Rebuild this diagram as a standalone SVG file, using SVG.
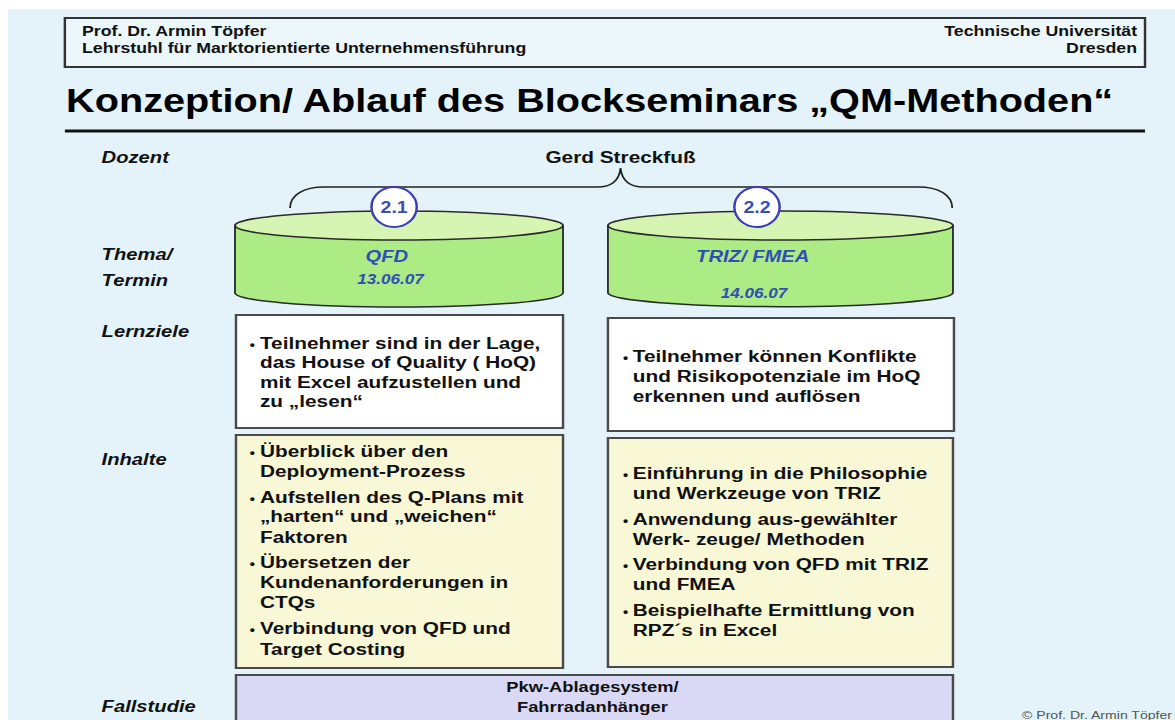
<svg xmlns="http://www.w3.org/2000/svg" width="1175" height="720" viewBox="0 0 1175 720">
<style>
.hdr{font-family:"Liberation Sans",Arial,sans-serif;font-weight:bold;font-size:14.5px;fill:#111}
.title{font-family:"Liberation Sans",Arial,sans-serif;font-weight:bold;font-size:32.4px;fill:#000}
.lbl{font-family:"Liberation Sans",Arial,sans-serif;font-weight:bold;font-style:italic;font-size:16.5px;fill:#111}
.body{font-family:"Liberation Sans",Arial,sans-serif;font-weight:bold;font-size:17px;fill:#111}
.bul{font-size:12px}
.cyl{font-family:"Liberation Sans",Arial,sans-serif;font-weight:bold;font-style:italic;fill:#2f4fb5}
.num{font-family:"Liberation Sans",Arial,sans-serif;font-weight:bold;font-size:16px;fill:#3a4fb0}
.box{stroke:#4a4a4a;stroke-width:2}
.cylside{fill:#adeb84;stroke:#2a2a2a;stroke-width:1.5}
.cyltop{fill:#d6f5b3;stroke:#2a2a2a;stroke-width:1.5}
.circ{fill:#ffffff;stroke:#3c3cb4;stroke-width:2}
.brace{fill:none;stroke:#222;stroke-width:1.5}
.fall{font-family:"Liberation Sans",Arial,sans-serif;font-weight:bold;font-size:15px;fill:#111}
.copy{font-family:"Liberation Sans",Arial,sans-serif;font-size:11.5px;fill:#555}
</style>
<rect x="0" y="0" width="1175" height="720" fill="#ffffff"/>
<g transform="scale(1.22396,1)">
<rect x="6.5" y="9" width="954" height="711" fill="#e3f3f9"/>
<g id="header">
<rect x="53" y="18" width="882.5" height="49" fill="#ecf7fb" stroke="#333" stroke-width="2"/>
<text class="hdr" x="67" y="36">Prof. Dr. Armin Töpfer</text>
<text class="hdr" x="67" y="53">Lehrstuhl für Marktorientierte Unternehmensführung</text>
<text class="hdr" x="929" y="36" text-anchor="end">Technische Universität</text>
<text class="hdr" x="929" y="53" text-anchor="end">Dresden</text>
</g>
<g id="title">
<text class="title" x="54" y="112">Konzeption/ Ablauf des Blockseminars „QM-Methoden“</text>
<rect x="53" y="129.5" width="882.5" height="3" fill="#111"/>
</g>
<g id="labels">
<text class="lbl" x="83" y="163">Dozent</text>
<text class="lbl" x="83" y="260">Thema/</text>
<text class="lbl" x="83" y="286">Termin</text>
<text class="lbl" x="83" y="337">Lernziele</text>
<text class="lbl" x="83" y="465">Inhalte</text>
<text class="lbl" x="83" y="712">Fallstudie</text>
</g>
<g id="dozent">
<text class="body" x="507" y="163" text-anchor="middle">Gerd Streckfuß</text>
</g>
<g id="connectors">
<path class="brace" d="M237,208 C237,195 248,187 265,187 L488,187 C500,187 506,180 507,168 C508,180 514,187 526,187 L750,187 C767,187 778,195 778,208"/>
</g>
<g id="cyl-qfd">
<path class="cylside" d="M192,225.5 L192,293 A134,14 0 0 0 460,293 L460,225.5 Z"/>
<ellipse class="cyltop" cx="326" cy="225.5" rx="134" ry="14.5"/>
<text class="cyl" x="316" y="262" text-anchor="middle" font-size="16.5">QFD</text>
<text class="cyl" x="319" y="284" text-anchor="middle" font-size="14">13.06.07</text>
</g>
<g id="cyl-triz">
<path class="cylside" d="M496.7,225.5 L496.7,293 A141,14 0 0 0 778.6,293 L778.6,225.5 Z"/>
<ellipse class="cyltop" cx="637.65" cy="225.5" rx="140.95" ry="14.5"/>
<text class="cyl" x="615" y="262" text-anchor="middle" font-size="16.5">TRIZ/ FMEA</text>
<text class="cyl" x="616" y="298" text-anchor="middle" font-size="14">14.06.07</text>
</g>
<g id="badge-21">
<ellipse class="circ" cx="322" cy="207" rx="18.5" ry="20"/>
<text class="num" x="322" y="213" text-anchor="middle">2.1</text>
</g>
<g id="badge-22">
<ellipse class="circ" cx="618.5" cy="207" rx="18.5" ry="20"/>
<text class="num" x="618.5" y="213" text-anchor="middle">2.2</text>
</g>
<g id="lernziele-qfd">
<rect class="box" x="192.8" y="315" width="267.2" height="113" fill="#ffffff"/>
<text class="body"><tspan class="bul" x="204" y="349">•</tspan><tspan x="212.4" y="349">Teilnehmer sind in der Lage,</tspan><tspan x="212.4" y="368.5">das House of Quality ( HoQ)</tspan><tspan x="212.4" y="388">mit Excel aufzustellen und</tspan><tspan x="212.4" y="407.5">zu „lesen“</tspan></text>
</g>
<g id="lernziele-triz">
<rect class="box" x="496.7" y="318" width="282.7" height="113" fill="#ffffff"/>
<text class="body"><tspan class="bul" x="509" y="362">•</tspan><tspan x="517" y="362">Teilnehmer können Konflikte</tspan><tspan x="517" y="382">und Risikopotenziale im  HoQ</tspan><tspan x="517" y="402">erkennen und auflösen</tspan></text>
</g>
<g id="inhalte-qfd">
<rect class="box" x="192.8" y="435" width="267.2" height="233" fill="#f8f7d6"/>
<text class="body"><tspan class="bul" x="204" y="457">•</tspan><tspan x="212.4" y="457">Überblick über den</tspan><tspan x="212.4" y="477">Deployment-Prozess</tspan><tspan class="bul" x="204" y="503">•</tspan><tspan x="212.4" y="503">Aufstellen des Q-Plans mit</tspan><tspan x="212.4" y="522">„harten“ und „weichen“</tspan><tspan x="212.4" y="543">Faktoren</tspan><tspan class="bul" x="204" y="568">•</tspan><tspan x="212.4" y="568">Übersetzen der</tspan><tspan x="212.4" y="588">Kundenanforderungen in</tspan><tspan x="212.4" y="608">CTQs</tspan><tspan class="bul" x="204" y="634">•</tspan><tspan x="212.4" y="634">Verbindung von QFD und</tspan><tspan x="212.4" y="655">Target Costing</tspan></text>
</g>
<g id="inhalte-triz">
<rect class="box" x="496.7" y="438" width="281.9" height="229" fill="#f8f7d6"/>
<text class="body"><tspan class="bul" x="509" y="479">•</tspan><tspan x="517" y="479">Einführung in die Philosophie</tspan><tspan x="517" y="499">und Werkzeuge von TRIZ</tspan><tspan class="bul" x="509" y="525">•</tspan><tspan x="517" y="525">Anwendung aus-gewählter</tspan><tspan x="517" y="545">Werk- zeuge/ Methoden</tspan><tspan class="bul" x="509" y="570">•</tspan><tspan x="517" y="570">Verbindung von QFD mit TRIZ</tspan><tspan x="517" y="590">und FMEA</tspan><tspan class="bul" x="509" y="616">•</tspan><tspan x="517" y="616">Beispielhafte Ermittlung von</tspan><tspan x="517" y="636">RPZ´s in Excel</tspan></text>
</g>
<g id="fallstudie">
<rect class="box" x="192.8" y="675" width="585.8" height="60" fill="#d9d9f6"/>
<text class="fall" x="484" y="692" text-anchor="middle">Pkw-Ablagesystem/</text>
<text class="fall" x="484" y="712" text-anchor="middle">Fahrradanhänger</text>
</g>
<g id="copyright">
<text class="copy" x="835" y="719">© Prof. Dr. Armin Töpfer</text>
</g>
</g>
</svg>
